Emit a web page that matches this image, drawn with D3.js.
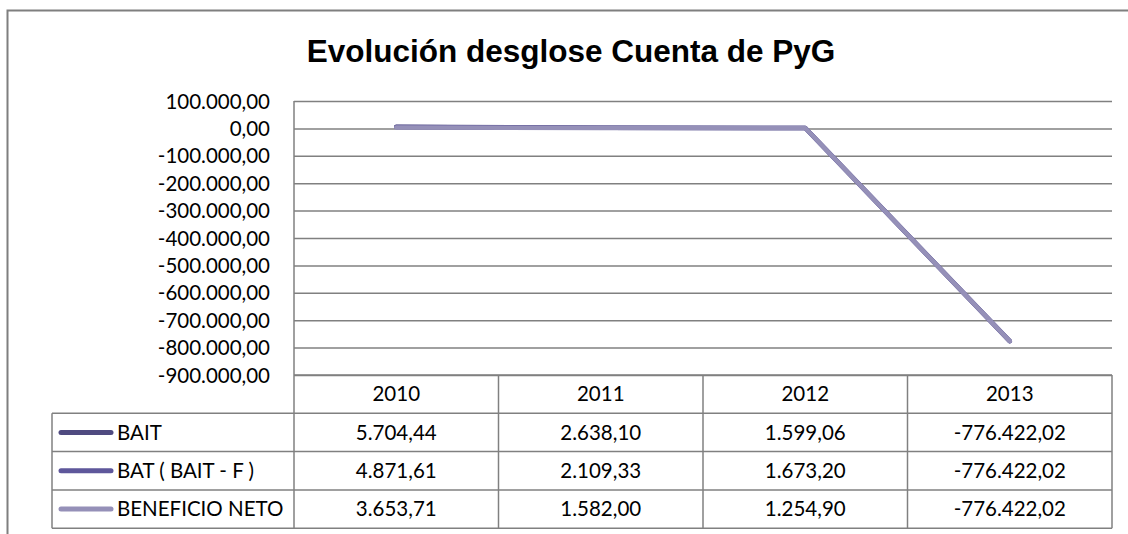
<!DOCTYPE html>
<html>
<head>
<meta charset="utf-8">
<script src="https://cdn.jsdelivr.net/npm/d3@7"></script>
<style>
  body { margin: 0; background: #fff; }
  text { font-family: Lato, "Open Sans", sans-serif; }
</style>
</head>
<body>
<div id="chart"></div>
<script>
// Data
const years = ['2010', '2011', '2012', '2013'];
const seriesNames = ['BAIT', 'BAT ( BAIT - F )', 'BENEFICIO NETO'];
const bait = [5704.44, 2638.10, 1599.06, -776422.02];
const bat = [4871.61, 2109.33, 1673.20, -776422.02];
const beneficio = [3653.71, 1582.00, 1254.90, -776422.02];
const yTicks = [100000, 0, -100000, -200000, -300000, -400000, -500000, -600000, -700000, -800000, -900000];
const colors = ['#4f4a80', '#5e579b', '#9590b8'];

const series = [bait, bat, beneficio];

const width = 1128;
const height = 534;
const plot = { left: 294, right: 1112, top: 101, bottom: 375 };
const rowH = 38.3;
const legendLeft = 52;
const fontSize = '20.5px';

const loc = d3.formatLocale({ decimal: ',', thousands: '.', grouping: [3], currency: ['', ''], minus: '-' });
const fmt = loc.format(',.2f');

const svg = d3.select('#chart')
  .append('svg')
  .attr('width', width)
  .attr('height', height);

// outer frame
svg.append('rect')
  .attr('x', 7.5).attr('y', 10.5)
  .attr('width', width + 10).attr('height', height + 10)
  .attr('fill', 'none')
  .attr('stroke', '#7f7f7f')
  .attr('stroke-width', 2);

// title
svg.append('text')
  .attr('x', 571)
  .attr('y', 62)
  .attr('text-anchor', 'middle')
  .style('font-family', '"Liberation Sans", Arial, sans-serif')
  .style('font-weight', 'bold')
  .style('font-size', '31.5px')
  .text('Evolución desglose Cuenta de PyG');

// scales
const x = d3.scaleBand().domain(years).range([plot.left, plot.right]);
const y = d3.scaleLinear().domain([-900000, 100000]).range([plot.bottom, plot.top]);

// y axis with gridlines
const yAxis = d3.axisLeft(y)
  .tickValues(yTicks)
  .tickFormat(fmt)
  .tickSize(-(plot.right - plot.left))
  .tickPadding(24);

const gy = svg.append('g')
  .attr('transform', `translate(${plot.left},0)`)
  .call(yAxis);
gy.select('.domain').remove();
gy.selectAll('.tick line')
  .attr('stroke', '#808080')
  .attr('stroke-width', 1.5);
gy.selectAll('.tick text')
  .attr('fill', '#000')
  .style('font-size', fontSize)
  .attr('dy', '0.35em');

// lines
const line = d3.line()
  .x((d, i) => x(years[i]) + x.bandwidth() / 2)
  .y(d => y(d));

series.forEach((s, k) => {
  svg.append('path')
    .attr('d', line(s))
    .attr('fill', 'none')
    .attr('stroke', colors[k])
    .attr('stroke-width', 4.5)
    .attr('stroke-linecap', 'round')
    .attr('stroke-linejoin', 'round');
});

// data table
const tableTop = plot.bottom;
const tableBottom = tableTop + rowH * 4;
const border = '#808080';
const tbl = svg.append('g');

// horizontal lines
tbl.append('line')
  .attr('x1', plot.left).attr('x2', plot.right)
  .attr('y1', tableTop).attr('y2', tableTop);
d3.range(1, 5).forEach(r => {
  tbl.append('line')
    .attr('x1', legendLeft).attr('x2', plot.right)
    .attr('y1', tableTop + r * rowH).attr('y2', tableTop + r * rowH);
});
// vertical lines
tbl.append('line')
  .attr('x1', legendLeft).attr('x2', legendLeft)
  .attr('y1', tableTop + rowH).attr('y2', tableBottom);
tbl.append('line')
  .attr('x1', plot.left).attr('x2', plot.left)
  .attr('y1', plot.top).attr('y2', tableBottom);
years.forEach(yr => {
  const xr = x(yr) + x.bandwidth();
  tbl.append('line')
    .attr('x1', xr).attr('x2', xr)
    .attr('y1', tableTop).attr('y2', tableBottom);
});
tbl.selectAll('line')
  .attr('stroke', border)
  .attr('stroke-width', 1.5);

// header years
tbl.selectAll('.yr')
  .data(years)
  .enter()
  .append('text')
  .attr('class', 'yr')
  .attr('x', d => x(d) + x.bandwidth() / 2)
  .attr('y', tableTop + rowH / 2)
  .attr('dy', '0.35em')
  .attr('text-anchor', 'middle')
  .style('font-size', fontSize)
  .text(d => d);

// rows
series.forEach((s, k) => {
  const cy = tableTop + rowH * (k + 1) + rowH / 2;
  tbl.append('line')
    .attr('x1', 61).attr('x2', 111)
    .attr('y1', cy).attr('y2', cy)
    .attr('stroke', colors[k])
    .attr('stroke-width', 5)
    .attr('stroke-linecap', 'round');
  tbl.append('text')
    .attr('x', 117)
    .attr('y', cy)
    .attr('dy', '0.35em')
    .style('font-size', fontSize)
    .text(seriesNames[k]);
  s.forEach((v, i) => {
    tbl.append('text')
      .attr('x', x(years[i]) + x.bandwidth() / 2)
      .attr('y', cy)
      .attr('dy', '0.35em')
      .attr('text-anchor', 'middle')
      .style('font-size', fontSize)
      .text(fmt(v));
  });
});
</script>
</body>
</html>
